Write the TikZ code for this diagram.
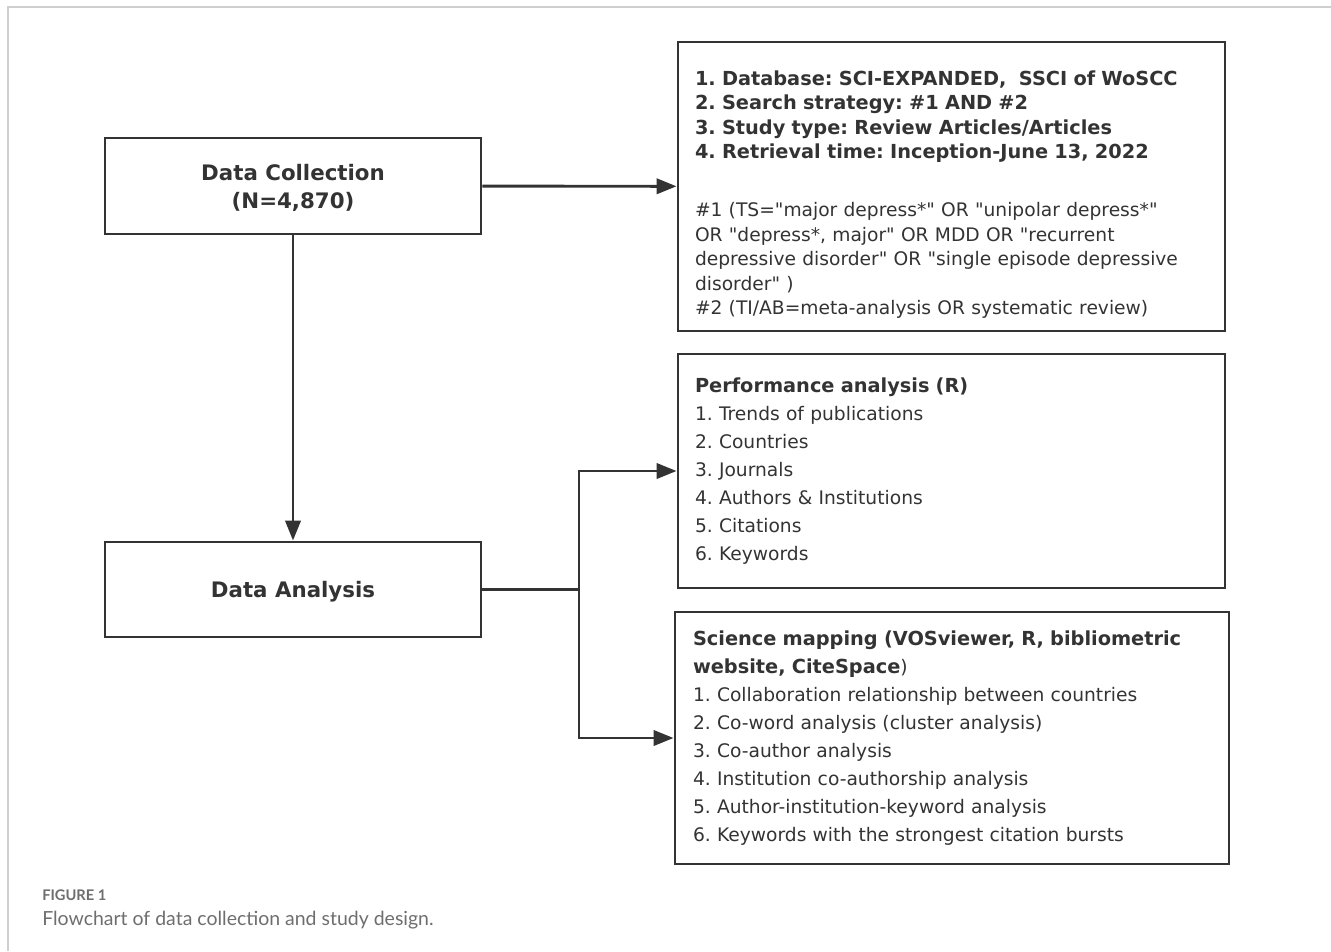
\documentclass[tikz,border=0pt]{standalone}
\usepackage{fontspec}
\setmainfont{DejaVu Sans}[Ligatures=TeXOff]
\newfontfamily\capfont{Lato}[Ligatures=TeXOff]
\usetikzlibrary{arrows.meta}
\definecolor{ink}{HTML}{333333}
\definecolor{capgray}{HTML}{6E6E6E}
\definecolor{framegray}{HTML}{CFCFCF}
\frenchspacing

\begin{document}
\begin{tikzpicture}[x=0.75pt, y=-0.75pt,
    >={Triangle[length=15pt,width=11.5pt]},
    stage/.style={draw=ink, line width=2.2pt, text=ink, minimum width=282pt, text depth=0pt,
        font=\fontsize{16}{21}\selectfont\bfseries, align=center},
    listbox/.style={draw=ink, line width=2.2pt, text=ink, align=left, inner sep=0pt},
    flow/.style={ink, line width=2.2pt}]
    \useasboundingbox (0,0) rectangle (1331,951);
    \draw[framegray, line width=0.9pt] (8,951) -- (8,7) -- (1331,7);

    % left column
    \node[stage, minimum height=72pt] (collect) at (293,186) {Data Collection\\(N=4,870)};
    \node[stage, minimum height=71.25pt] (analysis) at (293,589.5) {Data Analysis};

    % right column
    \node[listbox, minimum width=410.25pt, minimum height=216.75pt, text width=384.75pt,
        font=\fontsize{14}{18.4}\selectfont] (search) at (951.5,186.5)
        {{\fontsize{14.5}{18.4}\selectfont\bfseries
         \rule{0pt}{23pt}1. Database: SCI-EXPANDED,\ \ SSCI of WoSCC\\
         2. Search strategy: \#1 AND \#2\\
         3. Study type: Review Articles/Articles\\
         4. Retrieval time: Inception-June 13, 2022}\\[25pt]
         \#1 (TS="major depress*" OR "unipolar depress*"\\
         OR "depress*, major" OR MDD OR "recurrent\\
         depressive disorder" OR "single episode depressive\\
         disorder" )\\
         \#2 (TI/AB=meta-analysis OR systematic review)};
    \node[listbox, minimum width=410.25pt, minimum height=175.5pt, text width=384.75pt,
        font=\fontsize{14}{21}\selectfont] (perf) at (951.5,471)
        {{\fontsize{14.5}{21}\selectfont\bfseries Performance analysis (R)}\\
         1. Trends of publications\\
         2. Countries\\
         3. Journals\\
         4. Authors \& Institutions\\
         5. Citations\\
         6. Keywords};
    \node[listbox, minimum width=415.5pt, minimum height=189pt, text width=388.5pt,
        font=\fontsize{14}{21}\selectfont] (mapping) at (952,738)
        {{\fontsize{14.5}{21}\selectfont\bfseries Science mapping (VOSviewer, R, bibliometric}\\
         {\fontsize{14.5}{21}\selectfont\bfseries website, CiteSpace})\\
         1. Collaboration relationship between countries\\
         2. Co-word analysis (cluster analysis)\\
         3. Co-author analysis\\
         4. Institution co-authorship analysis\\
         5. Author-institution-keyword analysis\\
         6. Keywords with the strongest citation bursts};

    % connectors
    \coordinate (split) at (579,589.5);
    \draw[flow, ->] (collect) -- (search);
    \draw[flow, ->] (collect) -- (analysis);
    \draw[flow] (analysis.east) -- (split);
    \foreach \t in {perf,mapping}
        \draw[flow, ->] (split) |- (\t.west);

    % caption
    \node[anchor=west, inner sep=0pt, text=capgray, font=\capfont\fontsize{11}{13}\selectfont\bfseries] (fig) at (42,895) {FIGURE 1};
    \node[anchor=west, inner sep=0pt, text=capgray, font=\capfont\fontsize{14.6}{16}\selectfont] (caption) at (42,920) {Flowchart of data collection and study design.};
\end{tikzpicture}
\end{document}
